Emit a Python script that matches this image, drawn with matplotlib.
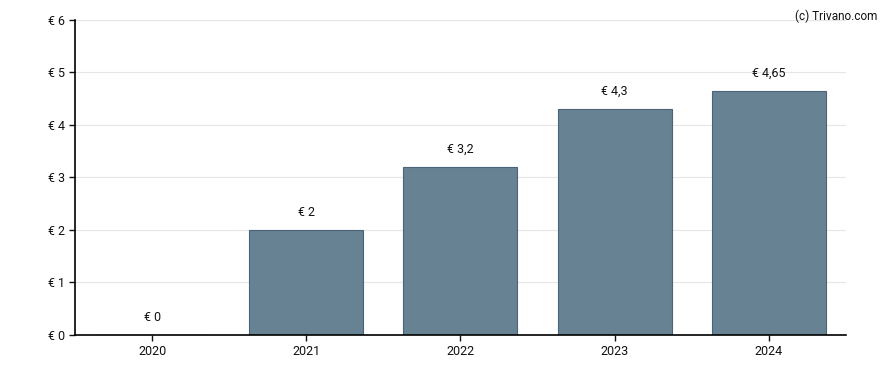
import matplotlib
matplotlib.use("Agg")
import matplotlib.pyplot as plt

plt.rcParams["font.family"] = ["Roboto", "DejaVu Sans"]

years = ["2020", "2021", "2022", "2023", "2024"]
values = [0, 2, 3.2, 4.3, 4.65]
labels = ["€ 0", "€ 2", "€ 3,2", "€ 4,3", "€ 4,65"]
yticks = [0, 1, 2, 3, 4, 5, 6]

fig = plt.figure(figsize=(8.88, 3.7), dpi=100)
ax = fig.add_axes([0.0845, 0.0946, 0.868, 0.8514])

x = range(len(years))
ax.bar(x, values, width=0.74, color="#678293", edgecolor="#4a6378", linewidth=0.8, zorder=2)
for i, (v, t) in enumerate(zip(values, labels)):
    ax.annotate(t, (i, v), xytext=(0, 8), textcoords="offset points",
                ha="center", va="bottom", fontsize=9, color="#111111")

ax.set_xlim(-0.5, len(years) - 0.5)
ax.set_ylim(0, 6)
ax.set_xticks(list(x))
ax.set_xticklabels(years)
ax.set_yticks(yticks)
ax.set_yticklabels(["€ %d" % t for t in yticks])
ax.tick_params(labelsize=9, length=4, width=1, colors="#111111", pad=3)
ax.grid(axis="y", color="#e6e6e6", linewidth=0.8, zorder=1)
ax.set_axisbelow(True)
for s in ["top", "right"]:
    ax.spines[s].set_visible(False)
for s in ["left", "bottom"]:
    ax.spines[s].set_linewidth(1.2)
    ax.spines[s].set_zorder(4)

fig.text(0.988, 0.975, "(c) Trivano.com", ha="right", va="top", fontsize=8.5, color="#111111")

fig.savefig("out.png", dpi=100)
